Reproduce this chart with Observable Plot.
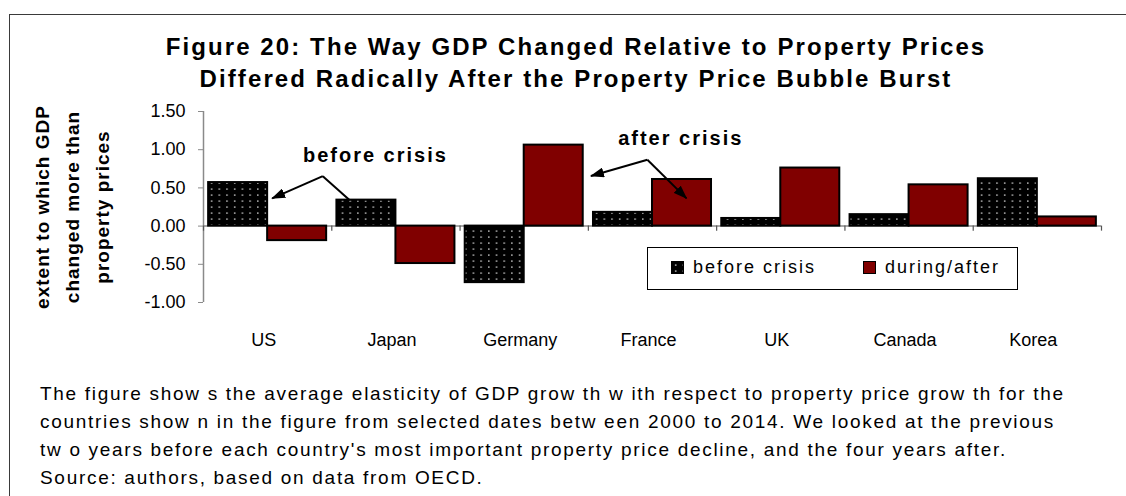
<!DOCTYPE html>
<html><head><meta charset="utf-8">
<script src="https://cdn.jsdelivr.net/npm/d3@7"></script>
<script src="https://cdn.jsdelivr.net/npm/@observablehq/plot@0.6"></script>
<style>
body{margin:0;background:#fff;font-family:"Liberation Sans",Arial,sans-serif;color:#000}
#wrap{position:relative;width:1126px;height:496px;overflow:hidden;background:#fff}
#frame{position:absolute;left:9px;top:14px;width:1300px;height:700px;border:1.5px solid #3a3a3a;box-sizing:border-box}
#title{position:absolute;left:0;width:1152px;top:31px;text-align:center;font-weight:bold;font-size:24px;line-height:32px;letter-spacing:2.1px}
#ytitle{position:absolute;left:-57px;top:162px;width:260px;height:90px;line-height:30px;text-align:center;font-weight:bold;font-size:19px;letter-spacing:1px;transform:rotate(-90deg);white-space:nowrap}
#chart{position:absolute;left:0;top:0}
#legend{position:absolute;left:647px;top:247px;width:371px;height:43px;border:1.5px solid #000;box-sizing:border-box;background:#fff;font-size:18px;letter-spacing:2px}
.sw{position:absolute;width:13px;height:13px;box-sizing:border-box;border:1px solid #000}
.lt{position:absolute;top:9px;line-height:20px;white-space:nowrap}
#caption{position:absolute;left:40px;top:380px;font-size:19px;line-height:28px;letter-spacing:1.7px;white-space:nowrap}
</style></head>
<body>
<div id="wrap">
  <div id="frame"></div>
  <div id="title"></div>
  <div id="ytitle"></div>
  <div id="chart"></div>
  <div id="legend"></div>
  <div id="caption"></div>
</div>
<script>
// ---- data ----
const countries = ["US", "Japan", "Germany", "France", "UK", "Canada", "Korea"];
const beforeCrisis = [0.57, 0.34, -0.74, 0.18, 0.10, 0.15, 0.62];
const duringAfter = [-0.19, -0.49, 1.06, 0.61, 0.76, 0.54, 0.12];
const seriesNames = ["before crisis", "during/after"];
const yTicks = [-1, -0.5, 0, 0.5, 1, 1.5];
const titleLines = ["Figure 20: The Way GDP Changed Relative to Property Prices",
                    "Differed Radically After the Property Price Bubble Burst"];
const yTitleLines = ["extent to which GDP", "changed more than", "property prices"];
const captionLines = [
  "The figure show s the average elasticity of GDP grow th w ith respect to property price grow th for the",
  "countries show n in the figure from selected dates betw een 2000 to 2014. We looked at the previous",
  "tw o years before each country's most important property price decline, and the four years after.",
  "Source: authors, based on data from OECD."];
// annotations (in data coordinates: x = category index units, y = value units)
const annotationText = ["before crisis", "after crisis"];
const annotationX = [1.34, 3.72];
const annotationY = [0.92, 1.14];
const arrowFrom = [[0.93, 0.654], [0.93, 0.654], [3.46, 0.869], [3.46, 0.869]];
const arrowTo = [[0.535, 0.363], [1.14, 0.337], [3.02, 0.655], [3.765, 0.363]];
const arrowHasHead = [true, false, true, true];

// ---- build ----
document.getElementById("title").innerHTML = titleLines.join("<br>");
document.getElementById("ytitle").innerHTML = yTitleLines.join("<br>");
document.getElementById("caption").innerHTML = captionLines.join("<br>");

const rows = countries.map((c, i) => ({country: c, i, before: beforeCrisis[i], after: duringAfter[i]}));
const annots = annotationText.map((t, k) => ({text: t, x: annotationX[k], y: annotationY[k]}));
const arrows = arrowFrom.map((f, k) => ({x1: f[0], y1: f[1], x2: arrowTo[k][0], y2: arrowTo[k][1], head: arrowHasHead[k]}));

const W = 1126, H = 360;
const chart = Plot.plot({
  width: W, height: H,
  marginLeft: 203, marginRight: 25, marginTop: 111, marginBottom: 58,
  style: {fontFamily: "'Liberation Sans', Arial, sans-serif", fontSize: "18px", color: "#000", background: "transparent"},
  x: {type: "linear", domain: [0, countries.length], axis: null},
  y: {domain: [-1, 1.5], axis: null},
  marks: [
    Plot.ruleY([0], {stroke: "#8a8a8a", strokeWidth: 1.5}),
    Plot.rect(rows, {x1: d => d.i + 0.04, x2: d => d.i + 0.5, y1: 0, y2: "before",
      fill: "url(#dots)", stroke: "#000", strokeWidth: 2}),
    Plot.rect(rows, {x1: d => d.i + 0.5, x2: d => d.i + 0.96, y1: 0, y2: "after",
      fill: "#800000", stroke: "#000", strokeWidth: 2}),
    Plot.ruleX([0], {y1: -1, y2: 1.5, stroke: "#8a8a8a", strokeWidth: 1.5}),
    Plot.axisY(yTicks, {tickFormat: d => d.toFixed(2), tickSize: 5, tickPadding: 13,
      fontSize: 18, stroke: "#8a8a8a", fill: "#000"}),
    Plot.ruleX(d3.range(0, countries.length + 1), {y1: 0, y2: -0.066, stroke: "#555", strokeWidth: 1.2}),
    Plot.axisX(countries.map((c, i) => i + 0.5), {anchor: "bottom", tickSize: 0, tickPadding: 31, dx: -4,
      tickFormat: d => countries[Math.floor(d)], fontSize: 18, fill: "#000"}),
    Plot.link(arrows.filter(a => a.head), {x1: "x1", y1: "y1", x2: "x2", y2: "y2",
      stroke: "#000", strokeWidth: 2}),
    Plot.link(arrows.filter(a => !a.head), {x1: "x1", y1: "y1", x2: "x2", y2: "y2",
      stroke: "#000", strokeWidth: 2}),
    Plot.text(annots, {x: "x", y: "y", text: "text", fontSize: 20, fontWeight: "bold",
      textAnchor: "middle", lineAnchor: "middle", fill: "#000"})
  ]
});

// pattern + arrow marker defs
const svg = d3.select(chart);
const defs = svg.insert("defs", ":first-child");
const pat = defs.append("pattern").attr("id", "dots").attr("patternUnits", "userSpaceOnUse")
  .attr("width", 7.7).attr("height", 6);
pat.append("rect").attr("width", 7.7).attr("height", 6).attr("fill", "#000");
pat.append("rect").attr("x", 3).attr("y", 2.4).attr("width", 1.4).attr("height", 1.4).attr("fill", "#d8d8d8");
const mk = defs.append("marker").attr("id", "ahead").attr("markerUnits", "userSpaceOnUse")
  .attr("viewBox", "0 0 14 10").attr("refX", 13).attr("refY", 5)
  .attr("markerWidth", 14).attr("markerHeight", 10).attr("orient", "auto");
mk.append("path").attr("d", "M0,0L14,5L0,10z").attr("fill", "#000");
const linkGroups = svg.selectAll('g[aria-label="link"]').nodes();
if (linkGroups.length) d3.select(linkGroups[0]).selectAll("path").attr("marker-end", "url(#ahead)");
svg.selectAll('g[aria-label="text"] text').style("letter-spacing", "2px");
document.getElementById("chart").appendChild(chart);

// legend
const leg = document.getElementById("legend");
const legX = [[23, 45], [215, 237]];
seriesNames.forEach((name, k) => {
  const sw = document.createElement("div");
  sw.className = "sw";
  sw.style.left = legX[k][0] + "px"; sw.style.top = "13px";
  if (k === 0) {
    sw.innerHTML = '<svg width="11" height="11" style="display:block"><rect width="11" height="11" fill="url(#dots)"/></svg>';
  } else sw.style.background = "#800000";
  leg.appendChild(sw);
  const t = document.createElement("div");
  t.className = "lt"; t.style.left = legX[k][1] + "px"; t.textContent = name;
  leg.appendChild(t);
});
</script>
</body></html>
